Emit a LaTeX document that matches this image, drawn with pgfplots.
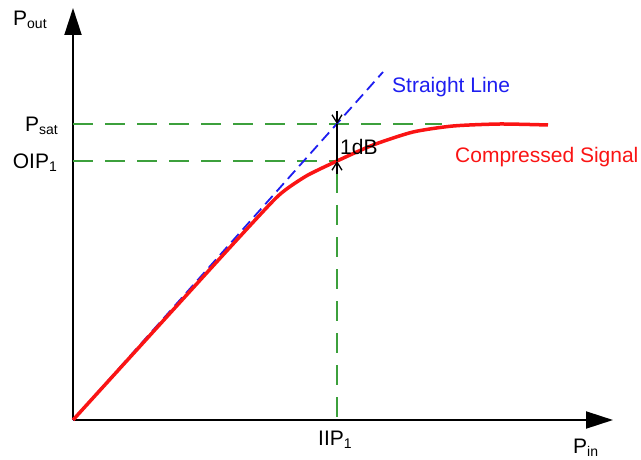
\documentclass[border=0pt]{standalone}
\usepackage{pgfplots}
\pgfplotsset{compat=1.18}
\usetikzlibrary{arrows.meta}
\usepackage{fontspec}
\setmainfont{Liberation Sans}
\definecolor{gline}{RGB}{60,160,60}
\definecolor{bline}{RGB}{30,30,240}
\definecolor{rline}{RGB}{250,20,20}
\newcommand\lbl{\fontsize{21bp}{25bp}\selectfont}
\newcommand\sub[1]{\raisebox{-3bp}{\fontsize{14bp}{16bp}\selectfont #1}}
\begin{document}
\begin{tikzpicture}
\begin{axis}[scale only axis, width=540bp, height=412bp,
  xmin=0, xmax=540, ymin=0, ymax=412,
  axis lines=left,
  axis line style={line width=2bp, -{Triangle[length=27bp,width=17bp]}},
  xtick=\empty, ytick=\empty, clip=false]
\coordinate (bl) at (axis cs:-73,-39);
\coordinate (tr) at (axis cs:568,420);
% green guide lines
\addplot[gline, line width=1.3bp, dash pattern=on 20bp off 12bp] coordinates {(0,296) (369,296)};
\addplot[gline, line width=1.3bp, dash pattern=on 20bp off 12bp] coordinates {(0,259) (264,259)};
\addplot[gline, line width=1.3bp, dash pattern=on 20bp off 12bp] coordinates {(264,247) (264,-6)};
% straight line
\addplot[bline, line width=1.8bp, dash pattern=on 11bp off 6bp] coordinates {(0,0) (310,348)};
% compressed signal
\addplot[rline, line width=3.5bp, smooth, tension=0.4] coordinates {
 (0,0) (150,165) (200,219) (215,232) (235,245) (264,259) (300,275) (340,288) (380,294) (427,296) (475,295)};
% 1 dB arrows
\addplot[black, line width=1.3bp] coordinates {(264,296) (264,259)};
\addplot[black, line width=1.3bp, -{Straight Barb[length=8bp,width=10bp]}] coordinates {(264,309) (264,296)};
\addplot[black, line width=1.3bp, -{Straight Barb[length=8bp,width=10bp]}] coordinates {(264,246) (264,259)};
% labels
\node[anchor=base west, inner sep=0pt] at (axis cs:-60,394) {\lbl P\sub{out}};
\node[anchor=base east, inner sep=0pt] at (axis cs:-15,288) {\lbl P\sub{sat}};
\node[anchor=base east, inner sep=0pt] at (axis cs:-16,251) {\lbl OIP\sub{1}};
\node[anchor=base west, inner sep=0pt] at (axis cs:245,-25) {\lbl IIP\sub{1}};
\node[anchor=base west, inner sep=0pt] at (axis cs:500,-33) {\lbl P\sub{in}};
\node[anchor=base west, inner sep=0pt, text=bline] at (axis cs:319,327) {\lbl Straight Line};
\node[anchor=base west, inner sep=0pt, text=rline] at (axis cs:382,257) {\lbl Compressed Signal};
\node[anchor=base west, inner sep=0pt] at (axis cs:267,265) {\lbl 1dB};
\end{axis}
\pgfresetboundingbox
\path[use as bounding box] (bl) rectangle (tr);
\end{tikzpicture}
\end{document}
